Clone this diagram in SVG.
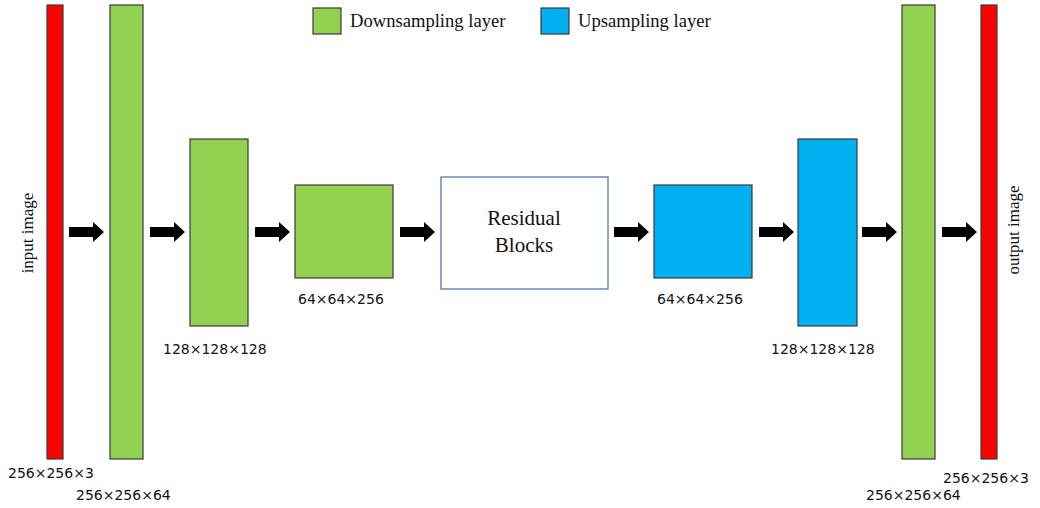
<svg xmlns="http://www.w3.org/2000/svg" width="1040" height="508" viewBox="0 0 1040 508">
<defs>
<style>
.red{fill:#ff0000;stroke:#3a3a3a;stroke-width:1.2}
.down{fill:#92d050;stroke:#3a3a3a;stroke-width:1.2}
.up{fill:#00b0f0;stroke:#3a3a3a;stroke-width:1.2}
.res{fill:#ffffff;stroke:#4a6b9e;stroke-width:1.2}
.dim{font-family:"DejaVu Sans","Noto Sans",sans-serif;font-size:14px;fill:#111}
.ser{font-family:"Liberation Serif","Times New Roman",serif;fill:#111}
.arrow{fill:#000}
</style>
<path id="arr" d="M0,-5 L24,-5 L24,-10 L35,0 L24,10 L24,5 L0,5 Z"/>
</defs>
<rect width="1040" height="508" fill="#fff"/>
<g id="legend">
<rect class="down" x="313" y="8" width="28" height="26"/>
<text class="ser" x="350" y="27" font-size="18.6">Downsampling layer</text>
<rect class="up" x="541" y="8" width="28" height="26"/>
<text class="ser" x="578" y="27" font-size="18.6">Upsampling layer</text>
</g>
<g id="input">
<rect class="red" x="47" y="5" width="16" height="454"/>
<text class="ser" font-size="17" text-anchor="middle" transform="translate(33,233) rotate(-90)">input image</text>
<text class="dim" x="8" y="478">256×256×3</text>
</g>
<g id="down1">
<rect class="down" x="110" y="5" width="33" height="454"/>
<text class="dim" x="76" y="500">256×256×64</text>
</g>
<g id="down2">
<rect class="down" x="190" y="139" width="58" height="187"/>
<text class="dim" x="163" y="354">128×128×128</text>
</g>
<g id="down3">
<rect class="down" x="295" y="185" width="98" height="93"/>
<text class="dim" x="298" y="304">64×64×256</text>
</g>
<g id="residual">
<rect class="res" x="441" y="177" width="167" height="112"/>
<text class="ser" font-size="21" text-anchor="middle" x="524" y="225">Residual</text>
<text class="ser" font-size="21" text-anchor="middle" x="524" y="252">Blocks</text>
</g>
<g id="up1">
<rect class="up" x="654" y="185" width="98" height="93"/>
<text class="dim" x="657" y="304">64×64×256</text>
</g>
<g id="up2">
<rect class="up" x="798" y="139" width="59" height="187"/>
<text class="dim" x="771" y="354">128×128×128</text>
</g>
<g id="down4">
<rect class="down" x="902" y="5" width="33" height="454"/>
<text class="dim" x="866" y="500">256×256×64</text>
</g>
<g id="output">
<rect class="red" x="981" y="5" width="16" height="454"/>
<text class="ser" font-size="17" text-anchor="middle" transform="translate(1019,230) rotate(-90)">output image</text>
<text class="dim" x="943" y="483">256×256×3</text>
</g>
<g id="connectors" class="arrow">
<use href="#arr" x="69" y="232"/>
<use href="#arr" x="150" y="232"/>
<use href="#arr" x="255" y="232"/>
<use href="#arr" x="400" y="232"/>
<use href="#arr" x="614" y="232"/>
<use href="#arr" x="759" y="232"/>
<use href="#arr" x="862" y="232"/>
<use href="#arr" x="942" y="232"/>
</g>
</svg>
